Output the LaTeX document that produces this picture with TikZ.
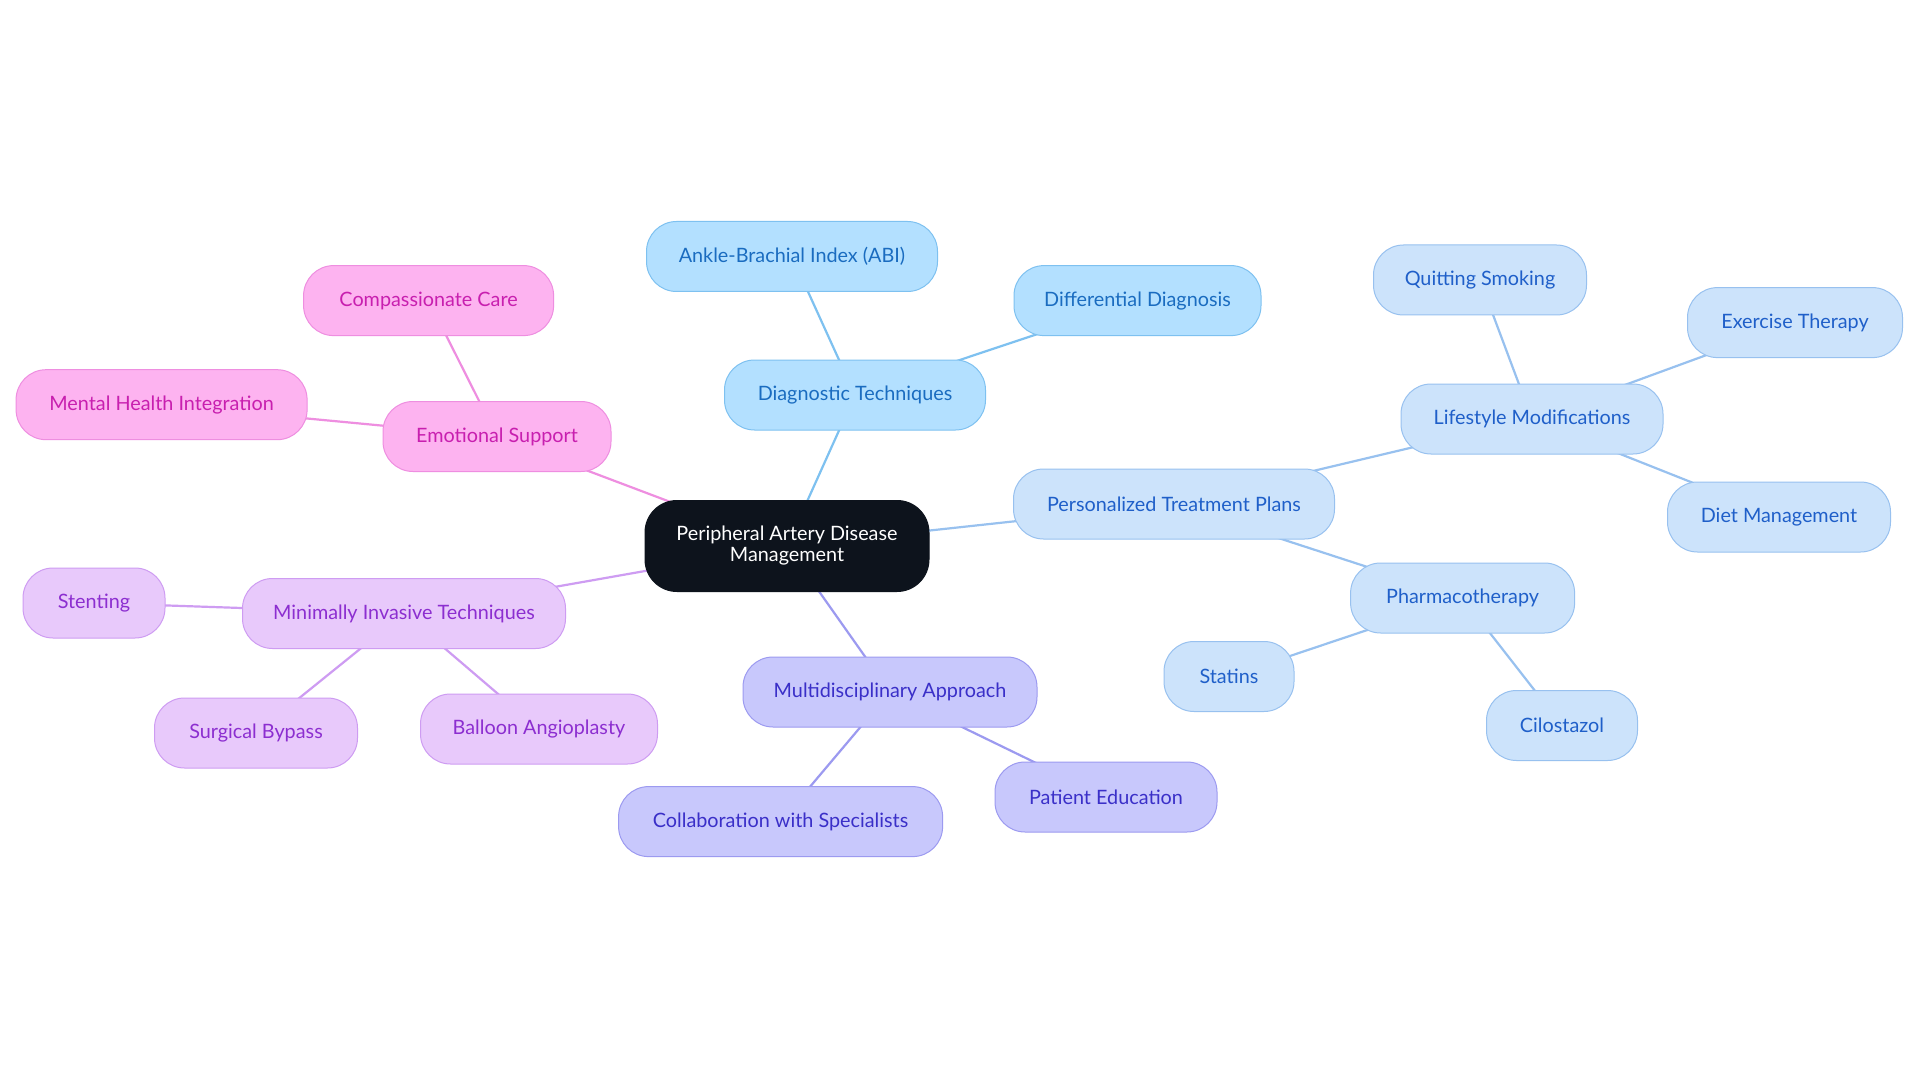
\documentclass[tikz,border=0pt]{standalone}
\usepackage{fontspec}
\setmainfont{Lato}
\usetikzlibrary{backgrounds}
\definecolor{cBlueF}{HTML}{B3E0FF}\definecolor{cBlueD}{HTML}{7EC1F0}\definecolor{cBlueT}{HTML}{1A6CC0}
\definecolor{cLbF}{HTML}{CCE3FB}\definecolor{cLbD}{HTML}{98C1EF}\definecolor{cLbT}{HTML}{1F5FC9}
\definecolor{cVioF}{HTML}{C8C8FC}\definecolor{cVioD}{HTML}{9C9AF0}\definecolor{cVioT}{HTML}{3A2FC8}
\definecolor{cPinkF}{HTML}{FDB3F0}\definecolor{cPinkD}{HTML}{EE8EE0}\definecolor{cPinkT}{HTML}{C81FAF}
\definecolor{cLilF}{HTML}{E8C9FB}\definecolor{cLilD}{HTML}{CE9CF2}\definecolor{cLilT}{HTML}{8C2ED0}
\definecolor{cCenter}{HTML}{0D131C}
\tikzset{
  box/.style={rounded corners=30pt, minimum height=70pt, inner sep=0pt, align=center, line width=1pt, font=\fontsize{19.8}{23}\selectfont},
  bluebox/.style={box, fill=cBlueF, draw=cBlueD, text=cBlueT},
  lbbox/.style={box, fill=cLbF, draw=cLbD, text=cLbT},
  viobox/.style={box, fill=cVioF, draw=cVioD, text=cVioT},
  pinkbox/.style={box, fill=cPinkF, draw=cPinkD, text=cPinkT},
  lilbox/.style={box, fill=cLilF, draw=cLilD, text=cLilT},
  link/.style={line width=2.2pt},
}
\begin{document}
\begin{tikzpicture}[x=1pt,y=-1pt]
\useasboundingbox (0,0) rectangle (1920,1083);
% center
\node[box, fill=cCenter, draw=cCenter, text=white, minimum width=284pt, minimum height=91pt, rounded corners=32pt] (c) at (787,546) {Peripheral Artery Disease\\[-2pt]Management};
% diagnostic
\node[bluebox, minimum width=261pt] (dt) at (855,395) {Diagnostic Techniques};
\node[bluebox, minimum width=291pt] (abi) at (792,256.5) {Ankle-Brachial Index (ABI)};
\node[bluebox, minimum width=247pt] (dd) at (1137.5,300.6) {Differential Diagnosis};
% personalized
\node[lbbox, minimum width=321pt] (ptp) at (1174,504) {Personalized Treatment Plans};
\node[lbbox, minimum width=262pt] (lm) at (1532,419) {Lifestyle Modifications};
\node[lbbox, minimum width=213pt] (qs) at (1480,280) {Quitting Smoking};
\node[lbbox, minimum width=215pt] (et) at (1795,322.6) {Exercise Therapy};
\node[lbbox, minimum width=223pt] (dm) at (1779,517) {Diet Management};
\node[lbbox, minimum width=224pt] (ph) at (1462.6,598) {Pharmacotherapy};
\node[lbbox, minimum width=130pt] (st) at (1229,676.5) {Statins};
\node[lbbox, minimum width=151pt] (ci) at (1562,725.5) {Cilostazol};
% multidisciplinary
\node[viobox, minimum width=294pt] (ma) at (890,692) {Multidisciplinary Approach};
\node[viobox, minimum width=324pt] (cs) at (780.6,821.6) {Collaboration with Specialists};
\node[viobox, minimum width=222pt] (pe) at (1106,797) {Patient Education};
% emotional
\node[pinkbox, minimum width=228pt] (es) at (497,436.5) {Emotional Support};
\node[pinkbox, minimum width=250pt] (cc) at (428.6,300.6) {Compassionate Care};
\node[pinkbox, minimum width=291pt] (mh) at (161.6,404.7) {Mental Health Integration};
% minimally invasive
\node[lilbox, minimum width=323pt] (mi) at (404,613.5) {Minimally Invasive Techniques};
\node[lilbox, minimum width=142pt] (sn) at (94,603) {Stenting};
\node[lilbox, minimum width=203pt] (sb) at (256,733) {Surgical Bypass};
\node[lilbox, minimum width=237pt] (ba) at (539,729) {Balloon Angioplasty};
% links
\begin{scope}[on background layer]
\fill[white] (0,0) rectangle (1920,1083);
\draw[link, cBlueD] (c.center) -- (dt.center);
\draw[link, cBlueD] (dt.center) -- (abi.center);
\draw[link, cBlueD] (dt.center) -- (dd.center);
\draw[link, cLbD] (c.center) -- (ptp.center);
\draw[link, cLbD] (ptp.center) -- (lm.center);
\draw[link, cLbD] (lm.center) -- (qs.center);
\draw[link, cLbD] (lm.center) -- (et.center);
\draw[link, cLbD] (lm.center) -- (dm.center);
\draw[link, cLbD] (ptp.center) -- (ph.center);
\draw[link, cLbD] (ph.center) -- (st.center);
\draw[link, cLbD] (ph.center) -- (ci.center);
\draw[link, cVioD] (c.center) -- (ma.center);
\draw[link, cVioD] (ma.center) -- (cs.center);
\draw[link, cVioD] (ma.center) -- (pe.center);
\draw[link, cPinkD] (c.center) -- (es.center);
\draw[link, cPinkD] (es.center) -- (cc.center);
\draw[link, cPinkD] (es.center) -- (mh.center);
\draw[link, cLilD] (c.center) -- (mi.center);
\draw[link, cLilD] (mi.center) -- (sn.center);
\draw[link, cLilD] (mi.center) -- (sb.center);
\draw[link, cLilD] (mi.center) -- (ba.center);
\end{scope}
\end{tikzpicture}
\end{document}
